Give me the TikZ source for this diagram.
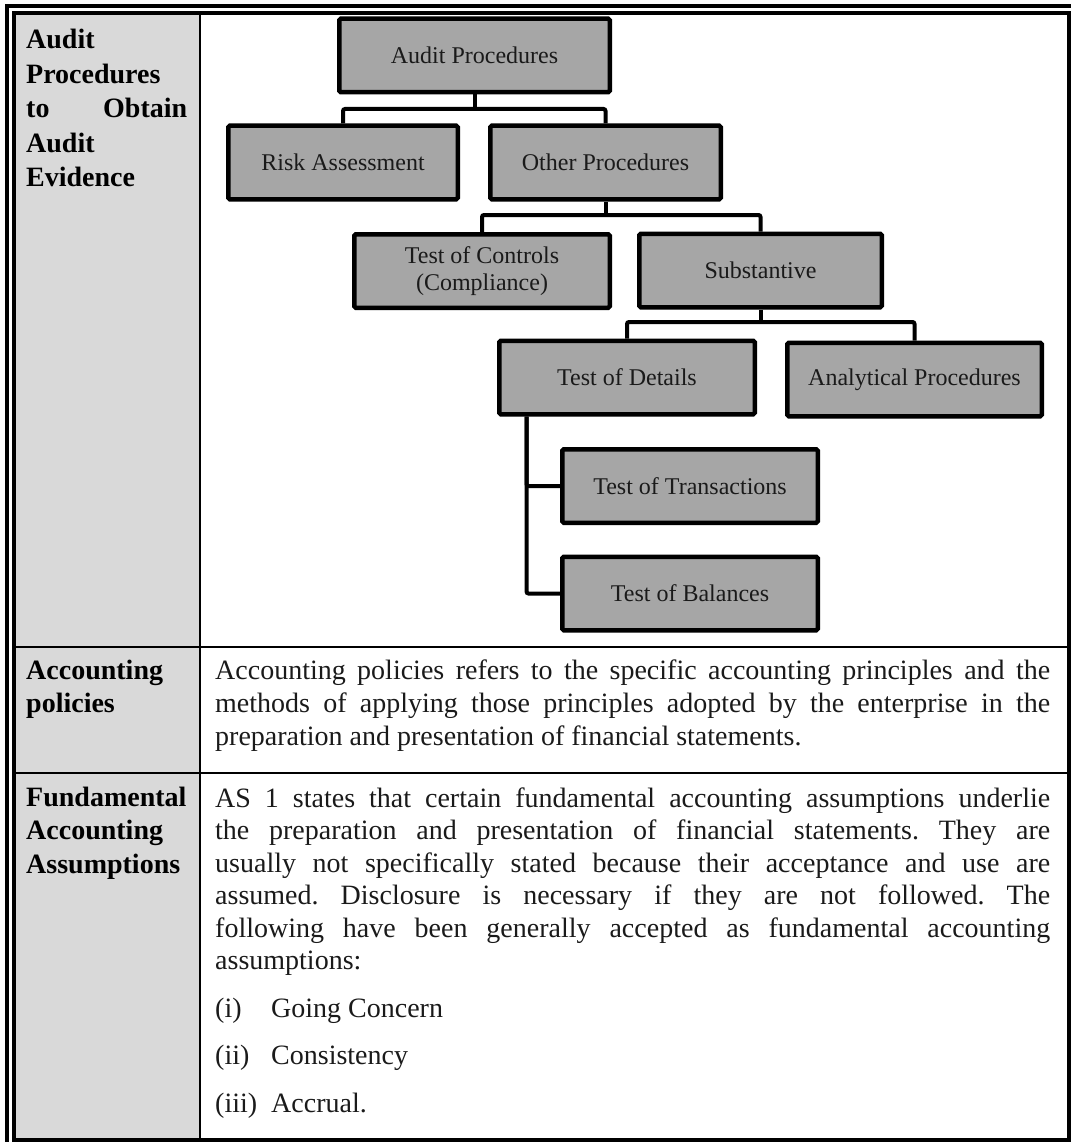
\documentclass[tikz,border=0pt]{standalone}
\usepackage{fontspec}
\setmainfont{Liberation Serif}
\usetikzlibrary{calc}
\definecolor{boxgray}{HTML}{A6A6A6}
\definecolor{cellgray}{HTML}{D9D9D9}
\definecolor{txt}{HTML}{1A1A1A}
\frenchspacing
\begin{document}
\begin{tikzpicture}[x=1pt,y=-1pt,
  chartbox/.style={draw=black, line width=4.5pt, fill=boxgray, rounded corners=1.5pt,
    minimum height=73.5pt, inner sep=0pt, align=center, text=txt,
    font=\fontsize{24}{27}\selectfont},
  conn/.style={draw=black, line width=4pt, rounded corners=2pt},
  celllab/.style={anchor=base west, inner sep=0pt, text width=161pt, align=justify,
    font=\bfseries\fontsize{28}{33.5}\selectfont},
  bodytext/.style={anchor=base west, inner sep=0pt, text width=835pt, align=justify,
    text=txt, font=\fontsize{28}{33}\selectfont},
  listtext/.style={anchor=base west, inner sep=0pt, text=txt, font=\fontsize{28}{33}\selectfont},
  frame/.style={draw=black, line width=4pt},
  rule/.style={draw=black, line width=2pt}]
\useasboundingbox (0,0) rectangle (1071,1142);
% table background
\fill[cellgray] (16,15.5) rectangle (199,1138);
% frames
\draw[frame] (7,1142) -- (7,6) -- (1071,6);
\draw[frame] (14,13.5) rectangle (1069,1140);
% table rules
\draw[rule] (200,15.5) -- (200,1138);
\draw[rule] (16,647) -- (1067,647);
\draw[rule] (16,773) -- (1067,773);

% chart boxes
\node[chartbox, minimum width=270.5pt] (AP) at (474.5,55.5) {Audit Procedures};
\node[chartbox, minimum width=229.5pt] (RA) at (343,162.5) {Risk Assessment};
\node[chartbox, minimum width=230.5pt] (OP) at (605.5,162.5) {Other Procedures};
\node[chartbox, minimum width=255.5pt] (TC) at (482,271) {Test of Controls\\(Compliance)};
\node[chartbox, minimum width=242.5pt] (SU) at (760.5,270.5) {Substantive};
\node[chartbox, minimum width=255.5pt] (TD) at (627,377.5) {Test of Details};
\node[chartbox, minimum width=254.5pt] (AN) at (914.5,379.5) {Analytical Procedures};
\node[chartbox, minimum width=255.5pt] (TT) at (690,486) {Test of Transactions};
\node[chartbox, minimum width=255.5pt] (TB) at (690,593.5) {Test of Balances};

% connectors
\coordinate (bar1) at (0,109);
\coordinate (bar2) at (0,215);
\coordinate (bar3) at (0,322);
\coordinate (tdx) at (526.5,0);
\draw[conn] (AP.south) -- (AP.south |- bar1);
\draw[conn] (RA.north) -- (RA.north |- bar1) -- (OP.north |- bar1) -- (OP.north);
\draw[conn] (OP.south) -- (OP.south |- bar2);
\draw[conn] (TC.north) -- (TC.north |- bar2) -- (SU.north |- bar2) -- (SU.north);
\draw[conn] (SU.south) -- (SU.south |- bar3);
\draw[conn] (TD.north) -- (TD.north |- bar3) -- (AN.north |- bar3) -- (AN.north);
\draw[conn] (TD.south -| tdx) |- (TB.west);
\draw[conn] (TD.south -| tdx) |- (TT.west);

% left column labels
\node[celllab, font=\bfseries\fontsize{28}{34.5}\selectfont] (lab1) at (26,49)
  {Audit\newline Procedures\newline to Obtain\linebreak Audit\newline Evidence};
\node[celllab] (lab2) at (26,679) {Accounting\newline policies};
\node[celllab] (lab3) at (26,806) {Fundamental\newline Accounting\newline Assumptions};

% body text
\node[bodytext] (body2) at (215,679)
  {Accounting policies refers to the specific accounting principles and the\linebreak
   methods of applying those principles adopted by the enterprise in the\linebreak
   preparation and presentation of financial statements.};
\node[bodytext, font=\fontsize{28}{32.5}\selectfont] (body3) at (215,807)
  {AS 1 states that certain fundamental accounting assumptions underlie\linebreak
   the preparation and presentation of financial statements. They are\linebreak
   usually not specifically stated because their acceptance and use are\linebreak
   assumed. Disclosure is necessary if they are not followed. The\linebreak
   following have been generally accepted as fundamental accounting\linebreak
   assumptions:};
\node[listtext] (n1) at (215,1017) {(i)};
\node[listtext] (i1) at (271,1017) {Going Concern};
\node[listtext] (n2) at (215,1064.5) {(ii)};
\node[listtext] (i2) at (271,1064.5) {Consistency};
\node[listtext] (n3) at (215,1112) {(iii)};
\node[listtext] (i3) at (271,1112) {Accrual.};
\end{tikzpicture}
\end{document}
